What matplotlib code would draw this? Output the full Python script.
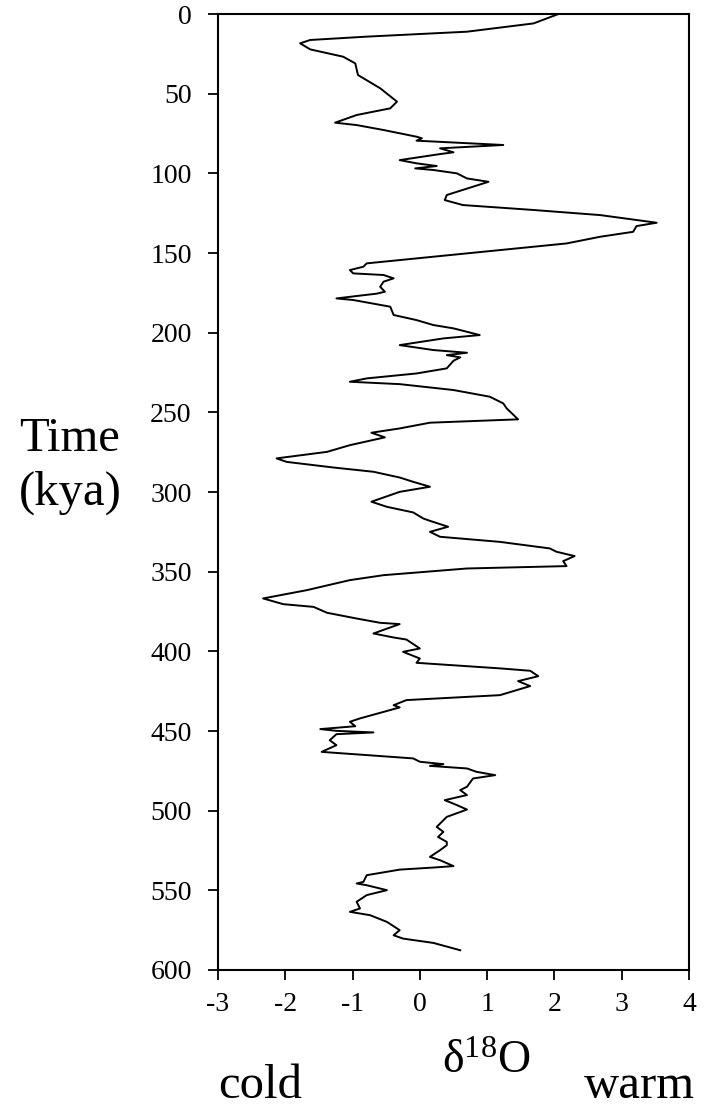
import matplotlib.pyplot as plt
from matplotlib.ticker import FuncFormatter

# Oxygen isotope record
age_kya = [0, 5.9, 11.1, 14.2, 16.3, 18.4, 22.2, 26.8, 31, 38.3, 46.6, 55, 59.2, 63.4, 68.2,
           69.7, 72.8, 77, 78, 79.5, 82.2, 84.3, 86.8, 87.9, 91.7, 93.7, 95.4, 96.9, 97.9,
           100, 103.2, 105.3, 108.4, 113.6, 116.8, 119.9, 123, 126.2, 129.3, 131, 133.1,
           136.7, 139.8, 144, 150.2, 154.4, 156.5, 158.6, 160.7, 162.8, 163.8, 165.9, 168,
           171.2, 174.3, 175.5, 178.5, 179.5, 183.7, 188.9, 192.1, 195.2, 197.3, 201.5, 203.6,
           207.8, 210.9, 212.6, 214.1, 215.5, 217.6, 222.4, 225.6, 228.7, 230.8, 232.3, 236,
           240.2, 244.4, 247.5, 254.4, 256.5, 260.1, 262.8, 265.7, 270.6, 274.8, 278.9, 281.1,
           284.6, 287.3, 290.9, 293.6, 296.7, 299.9, 306.1, 309.3, 312.8, 316.6, 318.1, 321.8,
           325, 328.1, 331.3, 335.4, 337.5, 340.2, 343.4, 346.5, 348, 352.2, 355.3, 361.6,
           366.8, 370.4, 372.1, 375.8, 379.4, 382.1, 382.9, 388.8, 391.3, 392.6, 398.2, 400.3,
           404.5, 407.2, 410.7, 412.2, 415.6, 418.7, 421.8, 427.5, 430.6, 433.8, 435.2, 442.1,
           444.2, 447.0, 448.8, 449.9, 450.9, 452, 455.8, 458.9, 463.1, 467.2, 469.3, 470.8,
           471.9, 473.5, 475.6, 477.7, 479.8, 485, 487.1, 490.2, 493.4, 496.5, 499.3, 503.9,
           510.2, 513.3, 516.5, 519.6, 521.7, 524.8, 529, 531.1, 534.8, 535.7, 537, 540.5,
           544.7, 545.7, 546.8, 549.9, 553, 557.2, 561.4, 563.5, 565.6, 569.8, 575, 578.2,
           580.3, 583, 587.6]
d18o = [2.06, 1.69, 0.70, -0.79, -1.63, -1.78, -1.63, -1.14, -0.96, -0.92, -0.59, -0.34, -0.44, -0.94, -1.26,
        -0.94, -0.54, -0.05, 0.03, -0.05, 1.24, 0.30, 0.50, 0.30, -0.30, -0.05, 0.25, -0.07, 0.20,
        0.55, 0.70, 1.02, 0.79, 0.40, 0.37, 0.64, 1.69, 2.68, 3.22, 3.52, 3.22,
        3.17, 2.68, 2.18, 0.70, -0.30, -0.79, -0.84, -1.04, -0.99, -0.54, -0.39, -0.54,
        -0.59, -0.52, -0.64, -1.24, -0.99, -0.44, -0.39, -0.05, 0.20, 0.50, 0.89, 0.35,
        -0.30, 0.20, 0.70, 0.40, 0.60, 0.50, 0.40, -0.05, -0.79, -1.04, -0.30, 0.50,
        1.04, 1.24, 1.29, 1.46, 0.15, -0.30, -0.72, -0.52, -1.04, -1.38, -2.13, -1.98,
        -1.29, -0.69, -0.30, -0.10, 0.15, -0.30, -0.72, -0.49, -0.10, 0.05, 0.15, 0.42,
        0.15, 0.30, 1.19, 1.93, 2.03, 2.30, 2.13, 2.18, 0.70, -0.54, -1.04, -1.68,
        -2.33, -2.03, -1.58, -1.38, -0.94, -0.59, -0.30, -0.69, -0.39, -0.20, 0.00, -0.25,
        0.00, -0.05, 1.19, 1.64, 1.76, 1.46, 1.64, 1.19, -0.20, -0.39, -0.30, -0.89,
        -1.04, -0.96, -1.48, -1.24, -0.69, -1.24, -1.34, -1.24, -1.46, -0.10, 0.00, 0.35,
        0.15, 0.70, 0.84, 1.12, 0.79, 0.70, 0.60, 0.70, 0.37, 0.55, 0.70, 0.40,
        0.25, 0.35, 0.27, 0.40, 0.40, 0.30, 0.15, 0.30, 0.50, 0.20, -0.30, -0.79,
        -0.84, -0.94, -0.79, -0.49, -0.79, -0.94, -0.89, -1.04, -0.74, -0.49, -0.30, -0.39,
        -0.25, 0.20, 0.60]

x_ticks = [-3, -2, -1, 0, 1, 2, 3, 4]
y_ticks = list(range(0, 601, 50))

plt.rcParams['font.family'] = ['Liberation Serif', 'DejaVu Serif']
plt.rcParams['mathtext.fontset'] = 'custom'
plt.rcParams['mathtext.rm'] = 'Liberation Serif'
plt.rcParams['mathtext.it'] = 'Liberation Serif'

fig = plt.figure(figsize=(7.07, 11.12), dpi=100)
ax = fig.add_axes([0.3084, 0.1277, 0.6661, 0.8597])

ax.plot(d18o, age_kya, color='black', linewidth=1.4)

ax.set_xlim(-3, 4)
ax.set_ylim(600, 0)
ax.set_xticks(x_ticks)
ax.set_yticks(y_ticks)
# hyphen instead of unicode minus, like the original
ax.xaxis.set_major_formatter(FuncFormatter(lambda v, p: '%d' % v))
ax.tick_params(direction='out', length=7, width=1.3, labelsize=20)
ax.tick_params(axis='x', pad=9)
ax.tick_params(axis='y', pad=12)
for s in ax.spines.values():
    s.set_linewidth(1.5)

fig.text(0.099, 0.581, 'Time\n(kya)', fontsize=35, ha='center', va='center', linespacing=1.3)
fig.text(0.687, 0.035, r'$\mathrm{\delta^{18}O}$', fontsize=33, ha='center', va='baseline')
fig.text(0.368, 0.0234, 'cold', fontsize=35, ha='center', va='center')
fig.text(0.905, 0.0234, 'warm', fontsize=35, ha='center', va='center')

plt.savefig('out.png', dpi=100)
